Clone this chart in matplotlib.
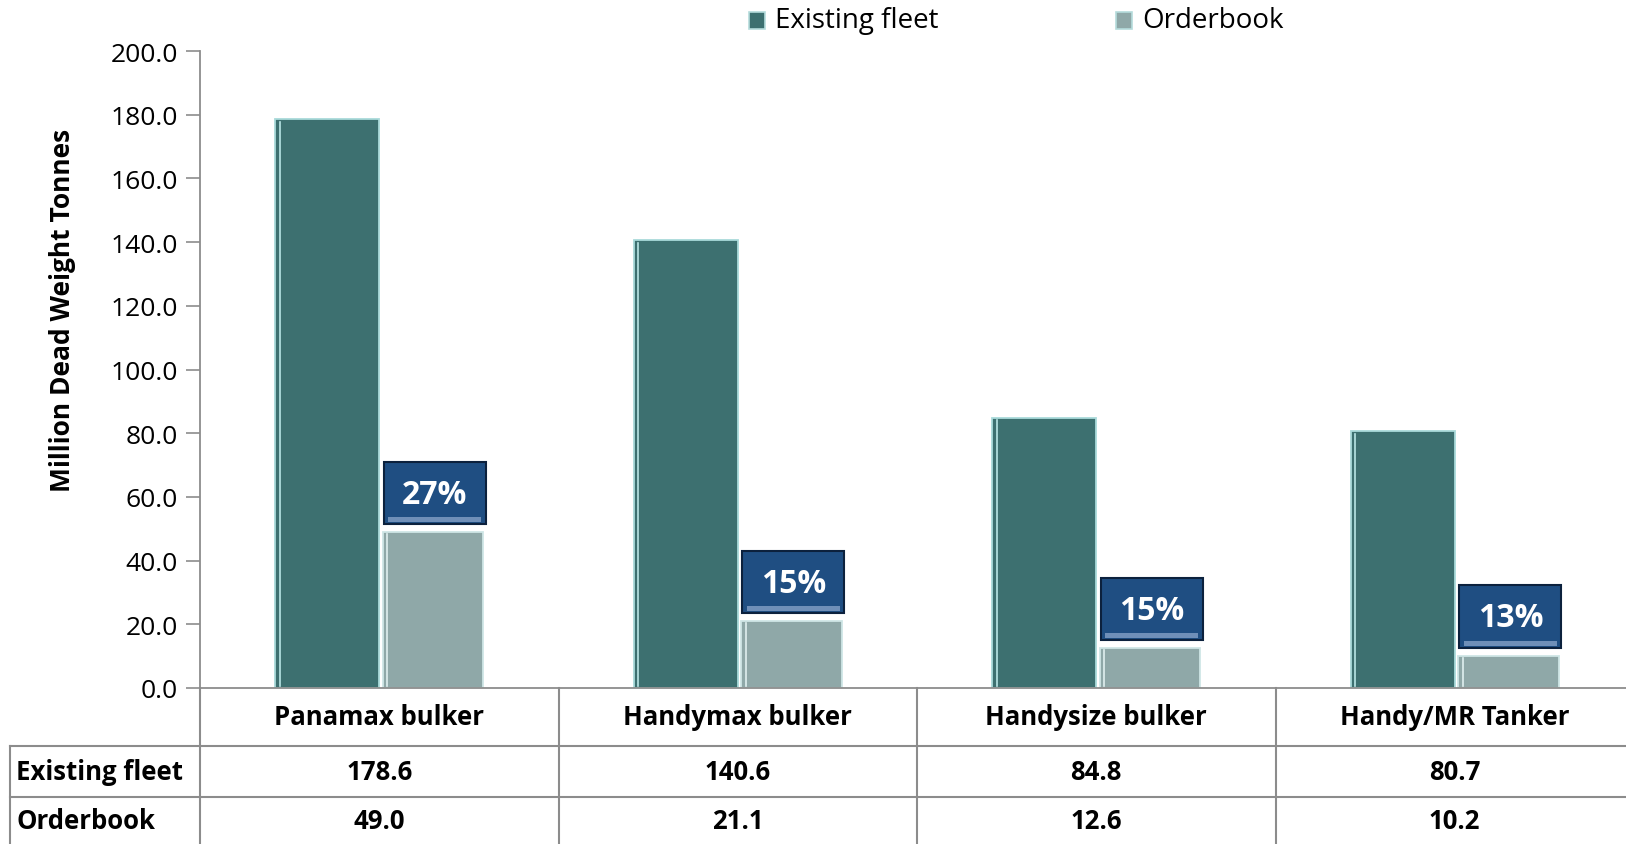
import numpy as np
from matplotlib import pyplot as plt
from matplotlib.patches import Rectangle
from matplotlib.lines import Line2D

plt.rcParams['font.family'] = ['Open Sans', 'DejaVu Sans']

categories = ['Panamax bulker', 'Handymax bulker', 'Handysize bulker', 'Handy/MR Tanker']
existing = [178.6, 140.6, 84.8, 80.7]
orderbook = [49.0, 21.1, 12.6, 10.2]
series_names = ['Existing fleet', 'Orderbook']
yticks = np.arange(0, 201, 20)

c_exist = '#3d7070'
c_order = '#8fa8a8'
c_box = '#1f4e82'
c_line = '#8c8c8c'

fig = plt.figure(figsize=(16.26, 8.45), dpi=100)
W, H = 1626., 845.
cat_w = 358.5  # pixel width of one category column

def fx(px):
    return px / W

def fy(py):
    return 1 - py / H

ax = fig.add_axes([fx(200), fy(689), 1 - fx(200), fy(52) - fy(689)])

x = np.arange(len(categories))
bw = 0.29
ax.bar(x - bw, existing, width=bw, align='edge', color=c_exist,
       edgecolor='#a9dada', linewidth=1.3, zorder=2)
ax.bar(x + 0.01, orderbook, width=bw - 0.01, align='edge', color=c_order,
       edgecolor='#cfe6e6', linewidth=1.3, zorder=2)
# light bevel on the left side of each bar
for i in range(len(categories)):
    ax.plot([x[i] - bw + 0.012] * 2, [0.5, existing[i] - 0.8], color='#b9e6e6', lw=1.2, zorder=3)
    ax.plot([x[i] + 0.022] * 2, [0.5, orderbook[i] - 0.8], color='#e0f0f0', lw=1.2, zorder=3)

# orderbook as share of existing fleet, in boxes over the orderbook bars
for i in range(len(categories)):
    pct = orderbook[i] / existing[i] * 100
    bottom = orderbook[i] + 2.5
    box = Rectangle((x[i] + 0.012, bottom), 0.285, 19.5, facecolor=c_box,
                    edgecolor='#0c213d', linewidth=1.5, zorder=3)
    ax.add_patch(box)
    ax.add_patch(Rectangle((x[i] + 0.025, bottom + 0.6), 0.259, 1.6,
                           facecolor='#6f8fb8', edgecolor='none', zorder=4))
    ax.text(x[i] + 0.155, bottom + 9.3, '%d%%' % round(pct), color='white',
            fontsize=23, fontweight='bold', ha='center', va='center', zorder=5)

ax.set_xlim(-0.5, -0.5 + (W - 200) / cat_w)
ax.set_ylim(0, 200)
ax.set_yticks(yticks)
ax.set_yticklabels(['%.1f' % v for v in yticks], fontsize=19)
ax.set_xticks([])
ax.tick_params(axis='y', length=10, width=1.2, color=c_line, pad=6)
for s in ['top', 'right']:
    ax.spines[s].set_visible(False)
ax.spines['left'].set_color(c_line)
ax.spines['bottom'].set_color(c_line)
ax.spines['left'].set_linewidth(1.3)
ax.spines['bottom'].set_linewidth(1.3)
ax.set_ylabel('Million Dead Weight Tonnes', fontsize=19, fontweight='bold')
ax.yaxis.set_label_coords(-0.087, 0.594)

# data table under the plot
col_edges = [200 + cat_w * k for k in range(5)]
row_y = [689, 747, 798, 845]

def hline(x0, x1, y):
    fig.add_artist(Line2D([fx(x0), fx(x1)], [fy(y), fy(y)], color=c_line, lw=1.5))

def vline(xp, y0, y1):
    fig.add_artist(Line2D([fx(xp), fx(xp)], [fy(y0), fy(y1)], color=c_line, lw=1.5))

hline(10, W, row_y[1])
hline(10, W, row_y[2])
vline(10, row_y[1], H)
vline(200, row_y[0], H)
for xe in col_edges[1:4]:
    vline(xe, row_y[0], H)

for k, cat in enumerate(categories):
    xc = (col_edges[k] + col_edges[k + 1]) / 2
    fig.text(fx(xc), fy((row_y[0] + row_y[1]) / 2), cat, ha='center', va='center',
             fontsize=18.5, fontweight='bold')
    fig.text(fx(xc), fy((row_y[1] + row_y[2]) / 2), '%.1f' % existing[k],
             ha='center', va='center', fontsize=18.5, fontweight='bold')
    fig.text(fx(xc), fy((row_y[2] + row_y[3]) / 2), '%.1f' % orderbook[k],
             ha='center', va='center', fontsize=18.5, fontweight='bold')

fig.text(fx(16), fy((row_y[1] + row_y[2]) / 2), series_names[0], ha='left',
         va='center', fontsize=18.5, fontweight='bold')
fig.text(fx(16), fy((row_y[2] + row_y[3]) / 2), series_names[1], ha='left',
         va='center', fontsize=18.5, fontweight='bold')

# legend along the top
for name, col, xs in [(series_names[0], c_exist, 749), (series_names[1], c_order, 1116)]:
    fig.add_artist(Rectangle((fx(xs), fy(30)), fx(16), fy(13) - fy(30),
                             facecolor=col, edgecolor='#b5dcdc', lw=1.2))
    fig.text(fx(xs + 26), fy(21), name, ha='left', va='center', fontsize=20)

fig.savefig('out.png', dpi=100)
